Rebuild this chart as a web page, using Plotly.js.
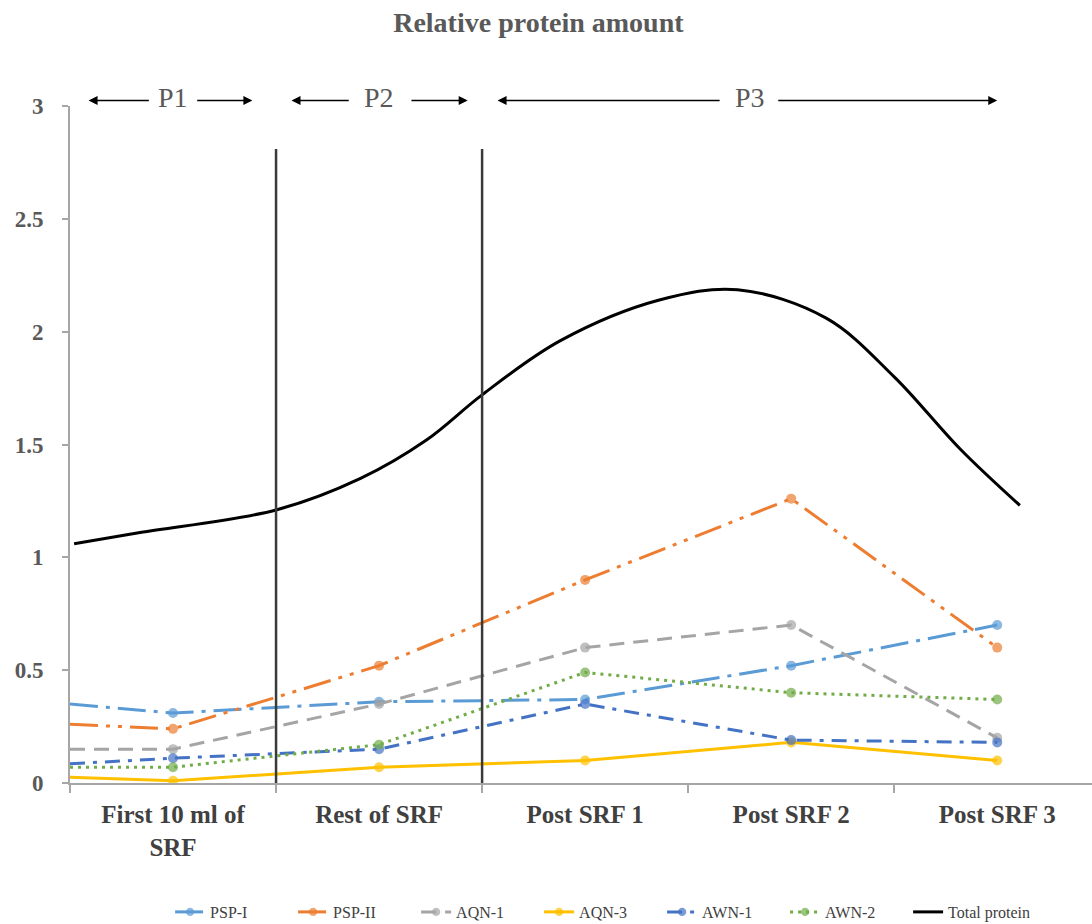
<!DOCTYPE html>
<html>
<head>
<meta charset="utf-8">
<script src="https://cdn.plot.ly/plotly-3.0.1.min.js"></script>
<style>
html,body{margin:0;padding:0;background:#fff;}
#chart{width:1092px;height:924px;}
</style>
</head>
<body>
<div id="chart"></div>
<script>
// ---- data ----
const categories = ["First 10 ml of<br>SRF", "Rest of SRF", "Post SRF 1", "Post SRF 2", "Post SRF 3"];
// first value in every series is where the line meets the y axis (left edge)
const seriesX = [-0.5, 0, 1, 2, 3, 4];
const pspI  = [0.35, 0.31, 0.36, 0.37, 0.52, 0.70];
const pspII = [0.26, 0.24, 0.52, 0.90, 1.26, 0.60];
const aqn1  = [0.15, 0.15, 0.35, 0.60, 0.70, 0.20];
const aqn3  = [0.025, 0.01, 0.07, 0.10, 0.18, 0.10];
const awn1  = [0.085, 0.11, 0.15, 0.35, 0.19, 0.18];
const awn2  = [0.07, 0.07, 0.17, 0.49, 0.40, 0.37];
// total protein curve (smooth), sampled along the drawn curve
const totalX = [-0.48, -0.16, 0.5, 0.91, 1.23, 1.5, 1.88, 2.36, 2.74, 3.17, 3.5, 3.82, 4.11];
const totalY = [1.06, 1.11, 1.21, 1.35, 1.52, 1.72, 1.96, 2.14, 2.186, 2.06, 1.80, 1.48, 1.23];
const periods = ["P1", "P2", "P3"];
const seriesNames = ["PSP-I", "PSP-II", "AQN-1", "AQN-3", "AWN-1", "AWN-2", "Total protein"];

const serif = "Liberation Serif, Times New Roman, serif";
const mk = seriesX.map((x, i) => i === 0 ? 0 : 10);

function series(name, y, color, dash) {
  return {
    type: "scatter", mode: "lines+markers", name: name,
    x: seriesX, y: y,
    line: {color: color, width: 3, dash: dash},
    marker: {color: color, size: mk, symbol: "circle", line: {width: 0}},
    hoverinfo: "skip"
  };
}

const traces = [
  series(seriesNames[0], pspI,  "#5B9BD5", "28px,8px,4px,8px"),
  series(seriesNames[1], pspII, "#ED7D31", "28px,8px,4px,8px,4px,8px"),
  series(seriesNames[2], aqn1,  "#A5A5A5", "15px,9px"),
  series(seriesNames[3], aqn3,  "#FFC000", "solid"),
  series(seriesNames[4], awn1,  "#4472C4", "15px,8px,4px,8px"),
  series(seriesNames[5], awn2,  "#70AD47", "3px,5px"),
  {
    type: "scatter", mode: "lines", name: seriesNames[6],
    x: totalX, y: totalY,
    line: {color: "#000000", width: 3, shape: "spline", smoothing: 1.0},
    hoverinfo: "skip"
  }
];

// arrows for periods (head, tail in x data units), drawn just above the plot
const arrowY = 1.008;
const arrowDefs = [
  {head: -0.41, tail: -0.11}, {head: 0.385, tail: 0.11},
  {head: 0.575, tail: 0.86},  {head: 1.43, tail: 1.15},
  {head: 1.575, tail: 2.66},  {head: 4.0, tail: 2.93}
];
const labelX = [0, 1.0, 2.8];

const annotations = [];
arrowDefs.forEach(a => annotations.push({
  x: a.head, y: arrowY, xref: "x", yref: "paper",
  ax: a.tail, ay: arrowY, axref: "x", ayref: "paper",
  text: "", showarrow: true, arrowhead: 2, arrowsize: 1.2, arrowwidth: 1.5,
  arrowcolor: "#000000", standoff: 0, startstandoff: 0
}));
periods.forEach((p, i) => annotations.push({
  x: labelX[i], y: arrowY, xref: "x", yref: "paper", text: p, showarrow: false,
  font: {family: serif, size: 28, color: "#595959"}, yanchor: "middle", yshift: 3
}));

const layout = {
  width: 1092, height: 924,
  paper_bgcolor: "#ffffff", plot_bgcolor: "#ffffff",
  margin: {l: 70, r: 0, t: 106, b: 141},
  title: {
    text: "Relative protein amount",
    font: {family: serif, size: 28, color: "#595959", weight: "bold"},
    xref: "container", x: 0.493, xanchor: "center",
    yref: "container", y: 0.976, yanchor: "middle"
  },
  xaxis: {
    range: [-0.5, 4.46], tickmode: "array", tickvals: [0, 1, 2, 3, 4], ticktext: categories,
    ticks: "", showline: true, linecolor: "#A6A6A6", linewidth: 2,
    showgrid: false, zeroline: false,
    tickfont: {family: serif, size: 25, color: "#404040", weight: "bold"},
    ticklabelstandoff: 8,
    minor: {tickmode: "array", tickvals: [-0.5, 0.5, 1.5, 2.5, 3.5], ticks: "outside",
            ticklen: 8, tickwidth: 2, tickcolor: "#A6A6A6", showgrid: false}
  },
  yaxis: {
    range: [0, 3], dtick: 0.5, tick0: 0,
    ticks: "outside", ticklen: 6, tickwidth: 2, tickcolor: "#A6A6A6",
    showline: true, linecolor: "#A6A6A6", linewidth: 2,
    showgrid: false, zeroline: false,
    tickfont: {family: serif, size: 23, color: "#595959", weight: "bold"},
    ticklabelstandoff: 14
  },
  shapes: [0.5, 1.5].map(xv => ({
    type: "line", xref: "x", yref: "y", x0: xv, x1: xv, y0: 0, y1: 2.81,
    line: {color: "#3a3a3a", width: 2.5}
  })),
  annotations: annotations,
  showlegend: true,
  legend: {
    orientation: "h", xref: "container", x: 0.55, xanchor: "center",
    yref: "container", y: 0.013, yanchor: "middle",
    font: {family: serif, size: 16, color: "#404040"},
    entrywidth: 78, entrywidthmode: "pixels", traceorder: "normal"
  }
};

Plotly.newPlot("chart", traces, layout, {staticPlot: true, displayModeBar: false});
</script>
</body>
</html>
